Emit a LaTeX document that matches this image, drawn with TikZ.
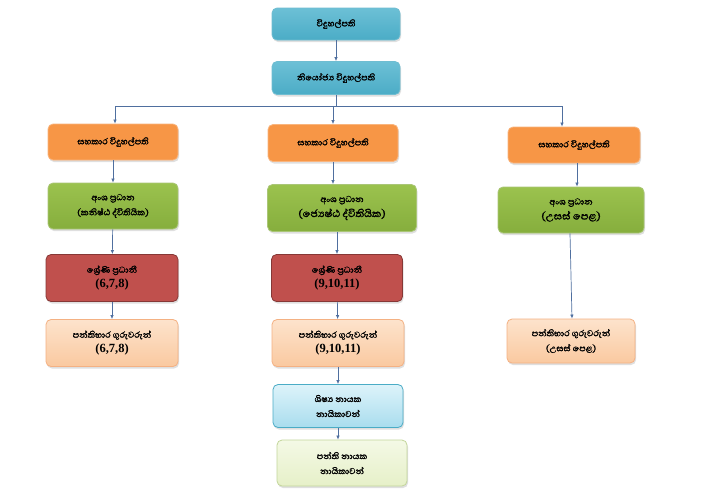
\documentclass[tikz,border=0pt]{standalone}
\usepackage{fontspec}
\setmainfont{Liberation Serif}
\newfontfamily\sinhfont[Script=Sinhala, AutoFakeBold=1.6]{Abhaya Libre}
\usetikzlibrary{arrows.meta,shadows}
\definecolor{teal1}{HTML}{4BACC6}
\definecolor{teal2}{HTML}{6CC0D6}
\definecolor{orng}{HTML}{F79646}
\definecolor{grn1}{HTML}{9BC24E}
\definecolor{grn2}{HTML}{86AE3D}
\definecolor{red1}{HTML}{C0504D}
\definecolor{peach1}{HTML}{FDE3CC}
\definecolor{peach2}{HTML}{FAC9A0}
\definecolor{peachb}{HTML}{F4B183}
\definecolor{lb1}{HTML}{DDF3FA}
\definecolor{lb2}{HTML}{A9DDEE}
\definecolor{lg1}{HTML}{F4F9E6}
\definecolor{lg2}{HTML}{E6F0C8}
\definecolor{lgb}{HTML}{C3D69B}
\definecolor{conn}{HTML}{4F6F9F}
\tikzset{
  box/.style={rounded corners=5pt, align=center, inner sep=2pt, font=\sinhfont\bfseries\fontsize{11}{15}\selectfont,
    drop shadow={shadow xshift=1pt, shadow yshift=-2pt, opacity=0.25}},
  tealbox/.style={box, draw=teal1!80!white, line width=0.8pt, top color=teal2, bottom color=teal1},
  orangebox/.style={box, draw=orng!70!white, line width=0.8pt, fill=orng},
  greenbox/.style={box, draw=grn2!70!white, line width=0.8pt, top color=grn1, bottom color=grn2},
  redbox/.style={box, draw=red1!70!black, line width=0.8pt, fill=red1},
  peachbox/.style={box, draw=peachb, line width=0.8pt, top color=peach1, bottom color=peach2},
  bluebox/.style={box, draw=teal1, line width=0.8pt, top color=lb1, bottom color=lb2},
  lgreenbox/.style={box, draw=lgb, line width=0.8pt, top color=lg1, bottom color=lg2},
  conn/.style={draw=conn, line width=0.7pt},
  arr/.style={conn, -{Latex[length=4pt,width=3.5pt]}},
}
\newcommand{\bigtxt}[1]{{\fontsize{13}{15}\selectfont #1}}
\newcommand{\nums}[1]{{\rmfamily\bfseries\fontsize{12.5}{15}\selectfont #1}}
\begin{document}
\begin{tikzpicture}[x=1pt,y=-1pt]
\useasboundingbox (0,0) rectangle (714,496);
\fill[white] (0,0) rectangle (714,496);

\node[tealbox, minimum width=128pt, minimum height=32pt] (p) at (336,24) {විදුහල්පති};
\node[tealbox, minimum width=128pt, minimum height=33pt] (dp) at (336,78) {නියෝජ්^^^^200dය විදුහල්පති};

\node[orangebox, minimum width=130pt, minimum height=36pt] (aL) at (113,142) {සහකාර විදුහල්පති};
\node[orangebox, minimum width=130pt, minimum height=37pt] (aM) at (333,143) {සහකාර විදුහල්පති};
\node[orangebox, minimum width=132pt, minimum height=36pt] (aR) at (574,145) {සහකාර විදුහල්පති};

\node[greenbox, minimum width=130pt, minimum height=46pt] (gL) at (113,206) {අංශ ප්^^^^200dරධාන\\(කනිෂ්ඨ ද්විතියික)};
\node[greenbox, minimum width=149pt, minimum height=47pt] (gM) at (342,208) {අංශ ප්^^^^200dරධාන\\\bigtxt{(ජ්^^^^200dයෙෂ්ඨ ද්විතියික)}};
\node[greenbox, minimum width=146pt, minimum height=46pt] (gR) at (571,210) {අංශ ප්^^^^200dරධාන\\\bigtxt{(උසස් පෙළ)}};

\node[redbox, minimum width=132pt, minimum height=47pt] (rL) at (112,278) {ශ්^^^^200dරේණි ප්^^^^200dරධානී\\\nums{(6,7,8)}};
\node[redbox, minimum width=131pt, minimum height=47pt] (rM) at (337,278) {ශ්^^^^200dරේණි ප්^^^^200dරධානී\\\nums{(9,10,11)}};

\node[peachbox, minimum width=132pt, minimum height=47pt] (tL) at (112,343) {පන්තිභාර ගුරුවරුන්\\\nums{(6,7,8)}};
\node[peachbox, minimum width=132pt, minimum height=47pt] (tM) at (338,343) {පන්තිභාර ගුරුවරුන්\\\nums{(9,10,11)}};
\node[peachbox, minimum width=128pt, minimum height=44pt] (tR) at (571,341) {පන්තිභාර ගුරුවරුන්\\(උසස් පෙළ)};

\node[bluebox, minimum width=130pt, minimum height=43pt] (s) at (338,406) {ශිෂ්^^^^200dය නායක\\නායිකාවන්};
\node[lgreenbox, minimum width=130pt, minimum height=46pt] (c) at (342,463) {පන්ති නායක\\නායිකාවන්};

\coordinate (bus) at (336,106);
\draw[arr] (p) -- (dp);
\draw[conn] (dp) -- (bus);
\draw[arr] (bus) -| ([xshift=2pt]aL.north);
\draw[arr] (bus) -| (aM.north);
\draw[arr] (bus) -| ([xshift=-12pt]aR.north);

\draw[arr] (aL) -- (gL);
\draw[arr] (aM) -- ([xshift=-9pt]gM.north);
\draw[arr] ([xshift=3pt]aR.south) -- ([xshift=6pt]gR.north);

\draw[arr] (gL) -- (rL);
\draw[arr] ([xshift=-5pt]gM.south) -- (rM);
\draw[arr] ([xshift=-1pt]gR.south) -- ([xshift=1pt]tR.north);

\draw[arr] (rL) -- (tL);
\draw[arr] (rM) -- (tM);
\draw[arr] (tM) -- (s);
\draw[arr] (s) -- ([xshift=-4pt]c.north);
\end{tikzpicture}
\end{document}
